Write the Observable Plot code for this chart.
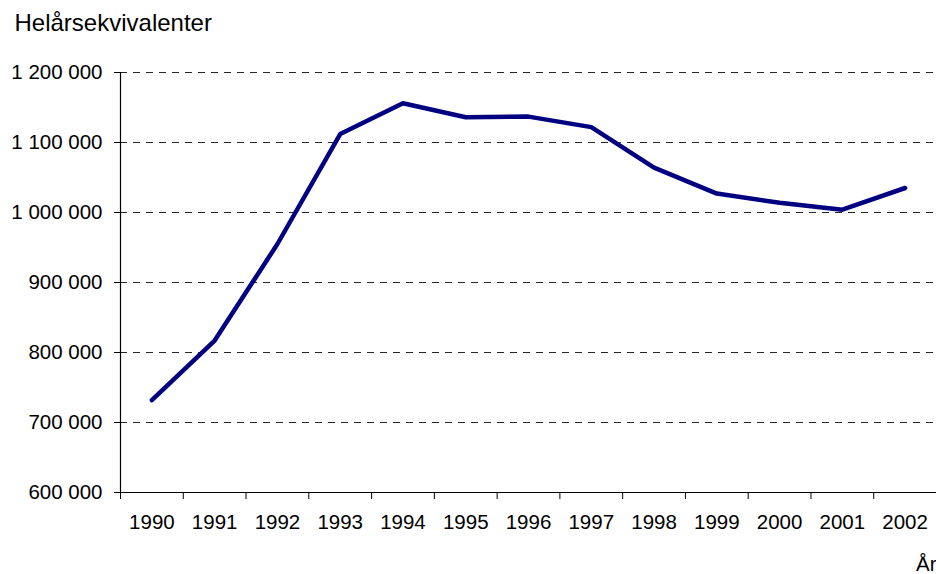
<!DOCTYPE html>
<html>
<head>
<meta charset="utf-8">
<script src="https://cdn.jsdelivr.net/npm/d3@7"></script>
<script src="https://cdn.jsdelivr.net/npm/@observablehq/plot@0.6"></script>
<style>
  html, body { margin: 0; padding: 0; background: #fff; }
  #chart svg { display: block; }
</style>
</head>
<body>
<div id="chart"></div>
<script>
const years = [1990, 1991, 1992, 1993, 1994, 1995, 1996, 1997, 1998, 1999, 2000, 2001, 2002];
const values = [732000, 817000, 955000, 1112000, 1156000, 1136000, 1137000, 1122000, 1064000, 1027000, 1014000, 1004000, 1035000];
const yTicks = [600000, 700000, 800000, 900000, 1000000, 1100000, 1200000];
const yTitle = "Helårsekvivalenter";
const xTitle = "År";

const data = years.map((y, i) => ({year: y, value: values[i]}));
const bounds = [years[0] - 0.5, ...years.map(y => y + 0.5)];
const fmt = d => d3.format(",")(d).replace(/,/g, " ");
const font = "Liberation Sans, Arial, Helvetica, sans-serif";

const chart = Plot.plot({
  width: 936,
  height: 574,
  marginLeft: 120,
  marginRight: 0,
  marginTop: 72,
  marginBottom: 82,
  style: {fontFamily: font, fontSize: "20.5px", color: "#000", background: "#fff"},
  x: {type: "linear", domain: [bounds[0], bounds[bounds.length - 1]], axis: null},
  y: {domain: [600000, 1200000], axis: null},
  marks: [
    Plot.ruleY(yTicks.slice(1), {x1: bounds[0], x2: bounds[bounds.length - 1], stroke: "#000", strokeWidth: 1, strokeDasharray: "7,6", strokeOpacity: 0.85}),
    Plot.ruleY([yTicks[0]], {x1: bounds[0], x2: bounds[bounds.length - 1], stroke: "#000", strokeWidth: 1.2}),
    Plot.ruleX([bounds[0]], {y1: yTicks[0], y2: yTicks[yTicks.length - 1], stroke: "#000", strokeWidth: 1.2}),
    Plot.axisY({ticks: yTicks, tickFormat: fmt, tickSize: 6, tickPadding: 12, fontSize: 20.5, label: null, stroke: "#000", strokeOpacity: 1}),
    Plot.axisX({ticks: bounds, tickFormat: () => "", tickSize: 7, label: null, stroke: "#000", strokeOpacity: 1}),
    Plot.axisX({ticks: years, tickFormat: d => String(d), tickSize: 0, tickPadding: 22, fontSize: 20.5, label: null}),
    Plot.line(data, {x: "year", y: "value", stroke: "#000080", strokeWidth: 4.5, strokeLinejoin: "miter", strokeLinecap: "round"}),
    Plot.text([yTitle], {frameAnchor: "top-left", textAnchor: "start", lineAnchor: "bottom", dx: -106, dy: -42, fontSize: 24, fill: "#000"}),
    Plot.text([xTitle], {frameAnchor: "bottom-right", textAnchor: "end", lineAnchor: "bottom", dx: 0, dy: 78, fontSize: 20.5, fill: "#000"})
  ]
});
document.getElementById("chart").appendChild(chart);
</script>
</body>
</html>
